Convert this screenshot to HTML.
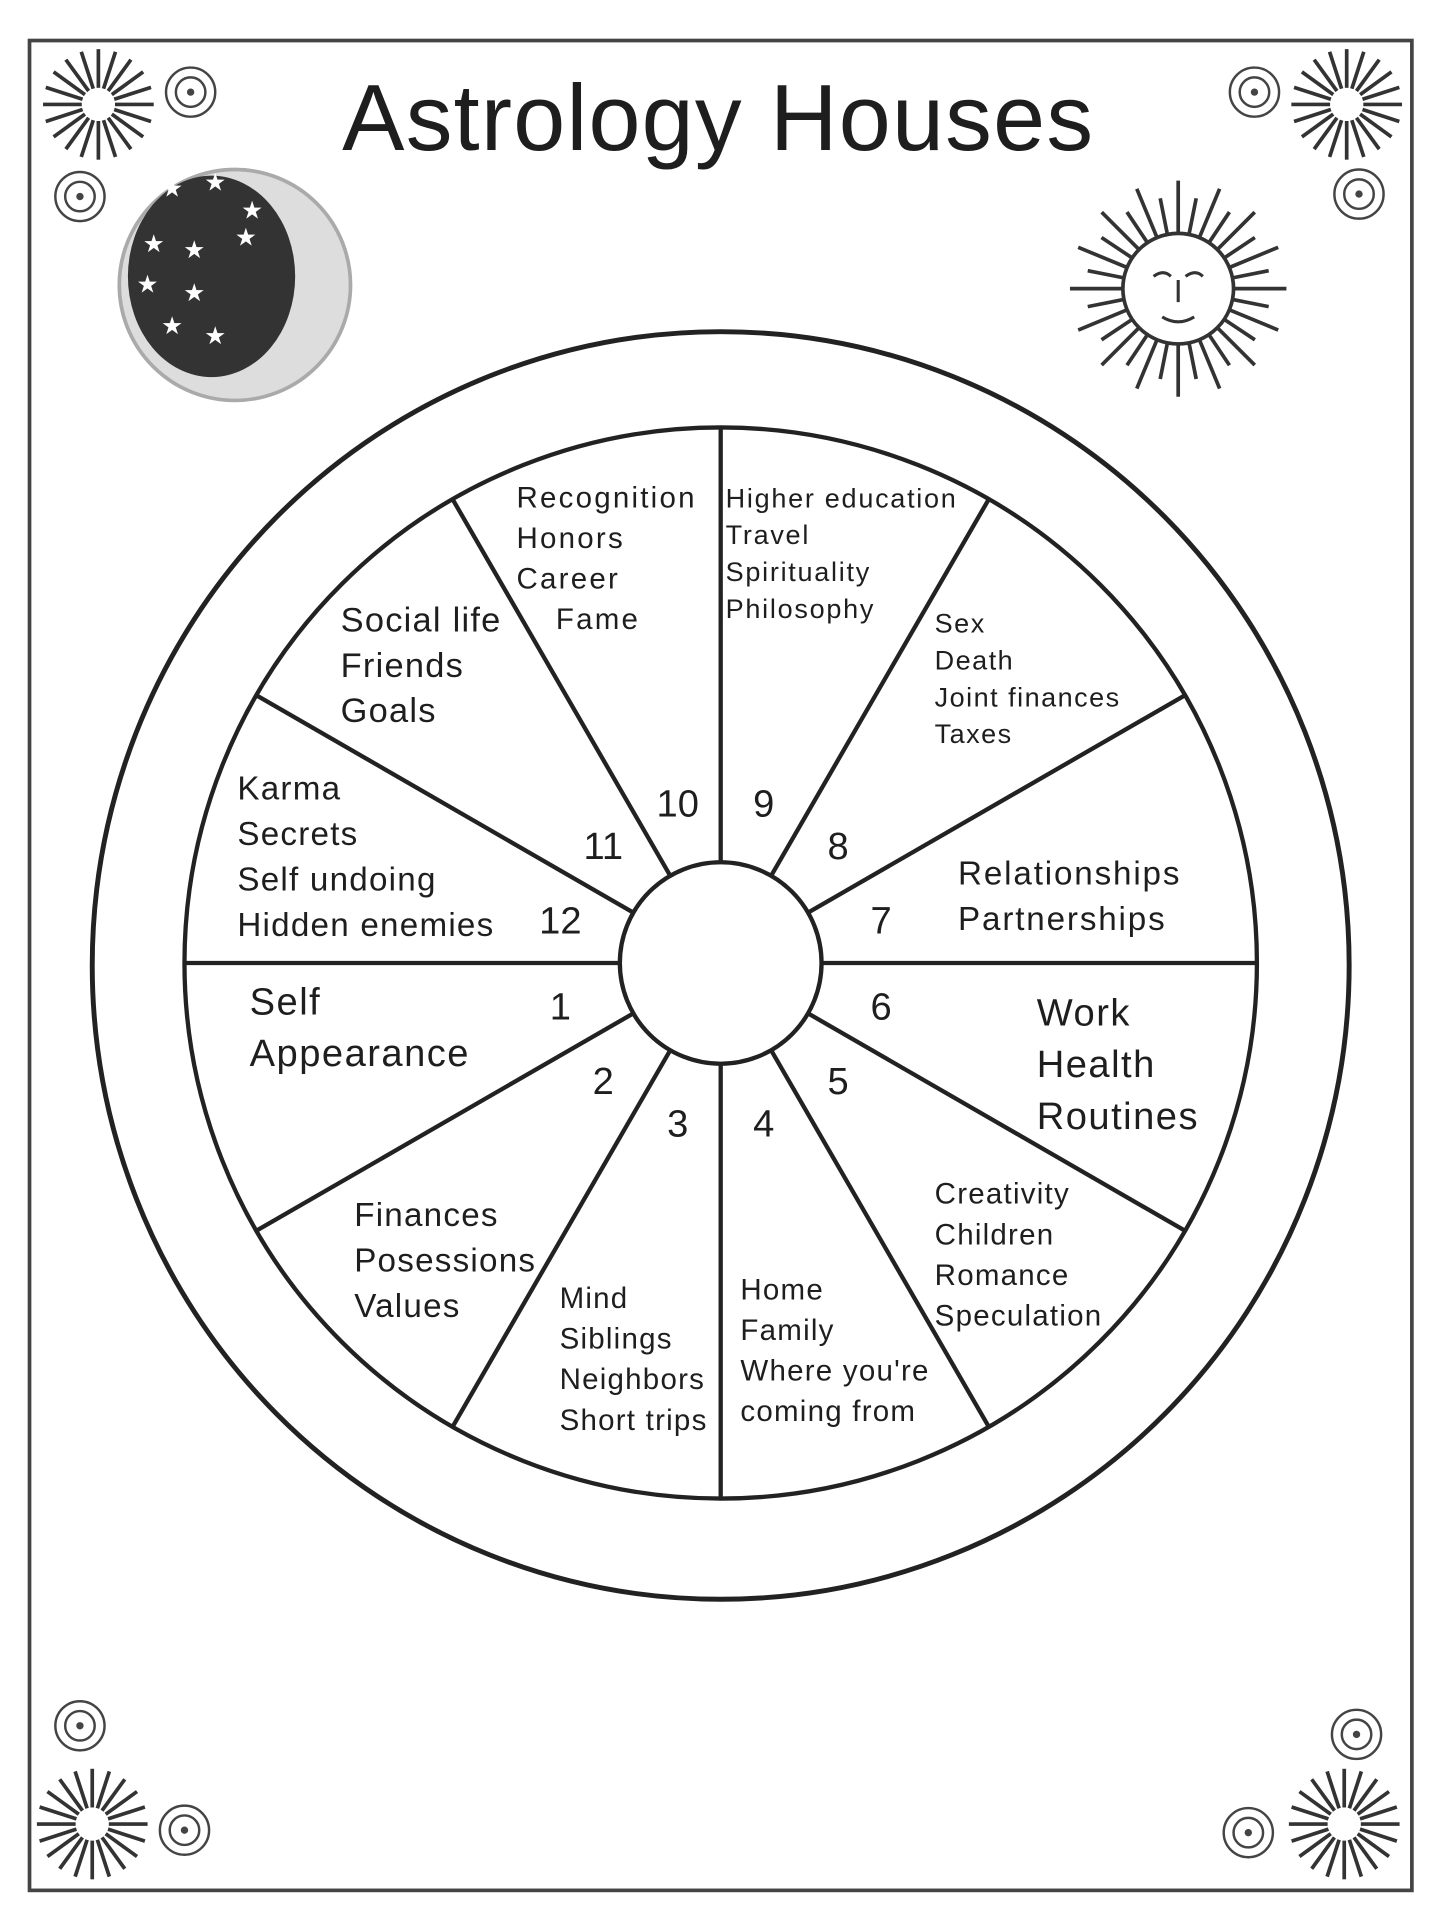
<!DOCTYPE html>
<html><head><meta charset="utf-8"><style>
html,body{margin:0;padding:0;background:#fff;}
svg{display:block;}
text{font-family:"Liberation Sans",sans-serif;fill:#1e1e1e;}
</style></head><body>
<svg id="chart" width="1450" height="1926" viewBox="0 0 1179 1568" preserveAspectRatio="none" xmlns="http://www.w3.org/2000/svg">
<rect x="0" y="0" width="1179" height="1568" fill="#fff"/>
<rect x="24" y="33" width="1124" height="1506" fill="none" stroke="#444" stroke-width="3"/>
<text x="584" y="122" font-size="76" text-anchor="middle" letter-spacing="1">Astrology Houses</text>
<g id="deco"></g>
<g id="wheel"></g>
<g id="labels"></g>
</svg>
<script>
const houseNumbers = [1,2,3,4,5,6,7,8,9,10,11,12];
const houseLabels = [
 ["Self","Appearance"],
 ["Finances","Posessions","Values"],
 ["Mind","Siblings","Neighbors","Short trips"],
 ["Home","Family","Where you're","coming from"],
 ["Creativity","Children","Romance","Speculation"],
 ["Work","Health","Routines"],
 ["Relationships","Partnerships"],
 ["Sex","Death","Joint finances","Taxes"],
 ["Higher education","Travel","Spirituality","Philosophy"],
 ["Recognition","Honors","Career","Fame"],
 ["Social life","Friends","Goals"],
 ["Karma","Secrets","Self undoing","Hidden enemies"]
];
const labelAnchors = [[203,826],[288,998],[455,1065],[602,1058],[760,980],[843,835],[779,720],[760,515],[590,413],[420,413],[277,514],[193,651]];
const labelSizes = [31,27,24,24,24,31,27,22,22,24,28,27];
const labelSpacing = [1.2,1,1,1,1,1.2,1.5,1.2,1.4,1.8,1,1];
const labelGaps = [42,37,33,33,33,42,37,30,30,33,37,37];

const NS="http://www.w3.org/2000/svg";
function mk(tag,attrs,parent){const e=document.createElementNS(NS,tag);for(const k in attrs)e.setAttribute(k,attrs[k]);parent.appendChild(e);return e;}
const cx=586,cy=784,rIn=82,rMid=436,rOut=513;
const wheel=document.getElementById('wheel');
const outer=mk('ellipse',{cx:cx,cy:cy+2,rx:rOut-2,ry:rOut+3,fill:'none',stroke:'#222','stroke-width':4},wheel);


const mid=mk('circle',{cx:cx,cy:cy,r:rMid,fill:'none',stroke:'#222','stroke-width':3.5},wheel);


houseNumbers.forEach((n,i)=>{
  const a=(180+i*30)*Math.PI/180;
  const l=mk('line',{x1:cx+rIn*Math.cos(a),y1:cy-rIn*Math.sin(a),x2:cx+rMid*Math.cos(a),y2:cy-rMid*Math.sin(a),stroke:'#222','stroke-width':3.5},wheel);
  
  
});
const inner=mk('circle',{cx:cx,cy:cy,r:rIn,fill:'#fff',stroke:'#222','stroke-width':3.5},wheel);


const lab=document.getElementById('labels');
houseNumbers.forEach((n,i)=>{
  const a=(195+i*30)*Math.PI/180;
  const r=135;
  const t=mk('text',{x:cx+r*Math.cos(a),y:cy-r*Math.sin(a)+11,'font-size':31,'text-anchor':'middle'},lab);
  t.textContent=n;
  
  
  const g=mk('text',{x:labelAnchors[i][0],y:labelAnchors[i][1],'font-size':labelSizes[i],'letter-spacing':labelSpacing[i]},lab);
  
  
  houseLabels[i].forEach((s,j)=>{
    const ts=mk('tspan',{x:labelAnchors[i][0]+(n===10&&j===3?32:0),y:labelAnchors[i][1]+j*labelGaps[i]},g);
    ts.textContent=s;
  });
});
const deco=document.getElementById('deco');
function burst(x,y,r,name){
  const g=mk('g',{},deco);
  
  
  for(let k=0;k<20;k++){const a=k*Math.PI/10;mk('line',{x1:x+r*0.3*Math.cos(a),y1:y+r*0.3*Math.sin(a),x2:x+r*Math.cos(a),y2:y+r*Math.sin(a),stroke:'#333','stroke-width':3},g);}
}
function spiral(x,y,r,name){
  const g=mk('g',{fill:'none',stroke:'#444','stroke-width':2},deco);
  
  
  mk('circle',{cx:x,cy:y,r:r},g);mk('circle',{cx:x,cy:y,r:r*0.6},g);mk('circle',{cx:x,cy:y,r:2,fill:'#444'},g);
}
burst(80,85,45,'corner-burst-tl');spiral(155,75,20,'corner-spiral');spiral(65,160,20,'corner-spiral');
burst(1095,85,45,'corner-burst-tr');spiral(1020,75,20,'corner-spiral');spiral(1105,158,20,'corner-spiral');
burst(75,1485,45,'corner-burst-bl');spiral(65,1405,20,'corner-spiral');spiral(150,1490,20,'corner-spiral');
burst(1093,1485,45,'corner-burst-br');spiral(1103,1412,20,'corner-spiral');spiral(1015,1492,20,'corner-spiral');
const moon=mk('g',{},deco);


mk('circle',{cx:191,cy:232,r:94,fill:'#ddd',stroke:'#aaa','stroke-width':3},moon);
mk('ellipse',{cx:172,cy:225,rx:68,ry:82,fill:'#333'},moon);
[[140,160],[175,155],[205,178],[125,205],[158,210],[120,238],[158,245],[140,272],[175,280],[200,200]].forEach(p=>{const s=mk('text',{x:p[0],y:p[1],'font-size':20,'text-anchor':'middle',fill:'#fff'},moon);s.style.fill='#fff';s.textContent='★';});
const sun=mk('g',{},deco);


for(let k=0;k<32;k++){const a=k*Math.PI/16;mk('line',{x1:958+45*Math.cos(a),y1:235+45*Math.sin(a),x2:958+(k%2?75:88)*Math.cos(a),y2:235+(k%2?75:88)*Math.sin(a),stroke:'#333','stroke-width':3},sun);}
mk('circle',{cx:958,cy:235,r:45,fill:'#fff',stroke:'#333','stroke-width':3},sun);
mk('path',{d:'M938 225 q8 -6 14 0 M964 225 q8 -6 14 0 M958 228 v18 M945 258 q13 8 26 0',fill:'none',stroke:'#333','stroke-width':2.5},sun);
</script>
</body></html>
